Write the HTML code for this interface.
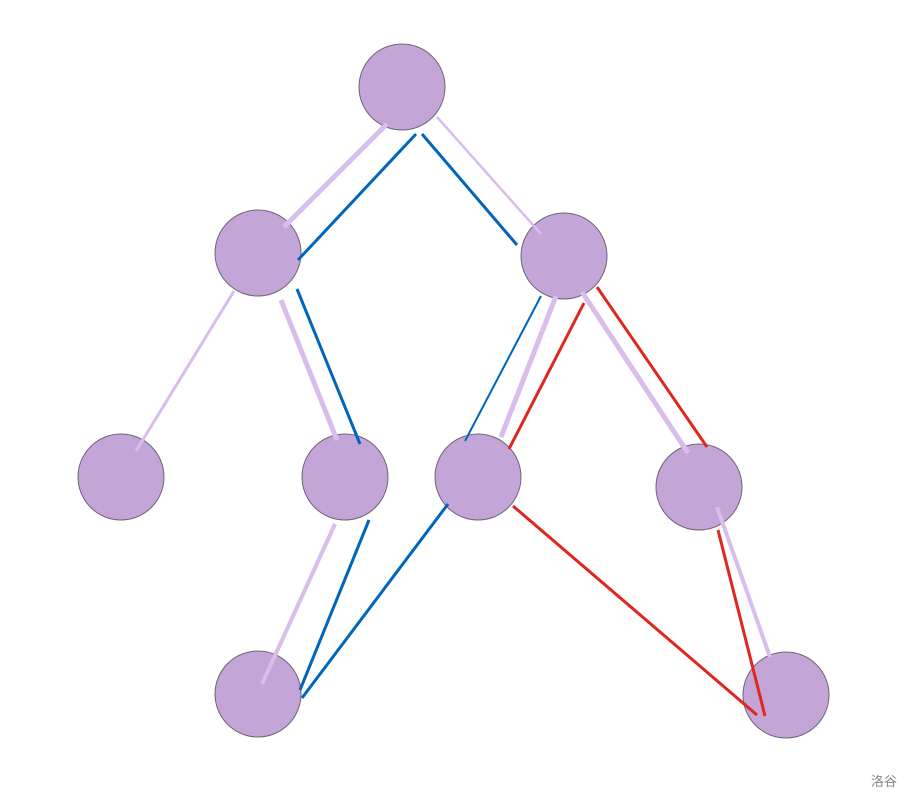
<!DOCTYPE html>
<html><head><meta charset="utf-8"><style>
html,body{margin:0;padding:0;background:#fff;width:912px;height:801px;overflow:hidden}
svg{display:block}
</style></head><body>
<svg width="912" height="801" viewBox="0 0 912 801" xmlns="http://www.w3.org/2000/svg">
<g fill="#c4a5d7" stroke="#6e6478" stroke-width="1">
<circle cx="402" cy="87" r="43"/>
<circle cx="258" cy="253" r="43"/>
<circle cx="564" cy="256" r="43"/>
<circle cx="121" cy="477" r="43"/>
<circle cx="345" cy="477" r="43"/>
<circle cx="478" cy="477" r="43"/>
<circle cx="699" cy="487" r="43"/>
<circle cx="258" cy="694" r="43"/>
<circle cx="786" cy="695" r="43"/>
</g>
<g stroke="#d9bdec" stroke-linecap="butt" fill="none">
<line x1="387" y1="124" x2="284" y2="227" stroke-width="5"/>
<line x1="437" y1="117" x2="541" y2="234" stroke-width="2.5"/>
<line x1="234" y1="291" x2="136" y2="451" stroke-width="3"/>
<line x1="281" y1="300" x2="337" y2="440" stroke-width="5"/>
<line x1="556" y1="296" x2="501" y2="437" stroke-width="5"/>
<line x1="582" y1="292" x2="688" y2="453" stroke-width="5"/>
<line x1="335" y1="524" x2="262" y2="684" stroke-width="4"/>
<line x1="717" y1="507" x2="770" y2="657" stroke-width="4"/>
</g>
<g stroke="#0066bb" stroke-width="3" fill="none">
<line x1="416" y1="134" x2="298" y2="260"/>
<line x1="422" y1="134" x2="517" y2="245"/>
<line x1="297" y1="289" x2="360" y2="444"/>
<line x1="541" y1="296" x2="465" y2="441" stroke-width="2"/>
<line x1="369" y1="520" x2="300" y2="690"/>
<line x1="448" y1="504" x2="302" y2="698"/>
</g>
<g stroke="#e0261e" stroke-width="3" fill="none">
<line x1="597" y1="287" x2="707" y2="447"/>
<line x1="584" y1="303" x2="509" y2="449"/>
<line x1="513" y1="506" x2="757" y2="715"/>
<line x1="718" y1="530" x2="765" y2="716"/>
</g>
<text x="871" y="786" font-family="'Liberation Sans','Noto Sans CJK SC',sans-serif" font-size="13" fill="#888">洛谷</text>
</svg>
</body></html>
